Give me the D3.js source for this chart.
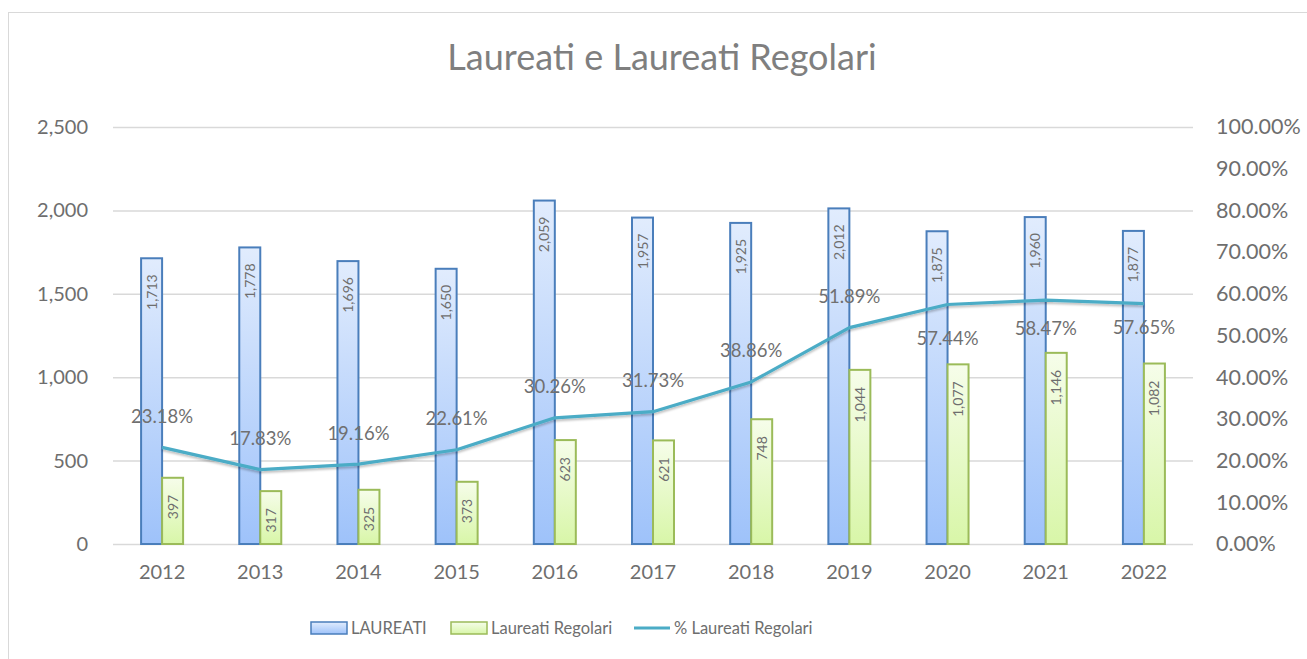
<!DOCTYPE html>
<html>
<head>
<meta charset="utf-8">
<script src="https://cdn.jsdelivr.net/npm/d3@7"></script>
<style>
  body { margin: 0; background: #fff; }
  svg { display: block; font-family: Lato, "Open Sans", sans-serif; }
</style>
</head>
<body>
<div id="chart"></div>
<script>
// Chart data
const years = ["2012", "2013", "2014", "2015", "2016", "2017", "2018", "2019", "2020", "2021", "2022"];
const laureati = [1713, 1778, 1696, 1650, 2059, 1957, 1925, 2012, 1875, 1960, 1877];
const laureatiRegolari = [397, 317, 325, 373, 623, 621, 748, 1044, 1077, 1146, 1082];
const percRegolari = [23.18, 17.83, 19.16, 22.61, 30.26, 31.73, 38.86, 51.89, 57.44, 58.47, 57.65];
const leftTicks = [0, 500, 1000, 1500, 2000, 2500];
const rightTicks = [0, 10, 20, 30, 40, 50, 60, 70, 80, 90, 100];

// label placement for the % line (above / below the point)
const pctLabelOffset = [-31, -31, -31, -31, -31, -31, -31, -31, 34, 28, 24];

const width = 1307, height = 659;
const margin = { left: 113, right: 114, top: 127, bottom: 115 };
const textGray = "#6e6e6e";

const svg = d3.select("#chart").append("svg")
    .attr("width", width)
    .attr("height", height);

// gradients
const defs = svg.append("defs");
const blueGrad = defs.append("linearGradient").attr("id", "gBlue")
    .attr("x1", 0).attr("y1", 0).attr("x2", 0).attr("y2", 1);
blueGrad.append("stop").attr("offset", "0%").attr("stop-color", "#e1ecfd");
blueGrad.append("stop").attr("offset", "100%").attr("stop-color", "#9ec2fa");
const greenGrad = defs.append("linearGradient").attr("id", "gGreen")
    .attr("x1", 0).attr("y1", 0).attr("x2", 0).attr("y2", 1);
greenGrad.append("stop").attr("offset", "0%").attr("stop-color", "#f6fdea");
greenGrad.append("stop").attr("offset", "100%").attr("stop-color", "#d8f6a8");

const shadow = defs.append("filter").attr("id", "shadow")
    .attr("x", "-20%").attr("y", "-20%").attr("width", "140%").attr("height", "160%");
shadow.append("feDropShadow").attr("dx", 0).attr("dy", 2).attr("stdDeviation", 1.2)
    .attr("flood-color", "#000").attr("flood-opacity", 0.25);

// chart frame
svg.append("rect")
    .attr("x", 8.5).attr("y", 12.5)
    .attr("width", width).attr("height", height)
    .attr("fill", "#fff")
    .attr("stroke", "#d9d9d9");

// Title
svg.append("text")
    .attr("x", 662).attr("y", 70)
    .attr("text-anchor", "middle")
    .attr("font-size", 36)
    .attr("fill", "#7f7f7f")
    .text("Laureati e Laureati Regolari");

// Scales
const x = d3.scaleBand().domain(years)
    .range([margin.left, width - margin.right]);
const yLeft = d3.scaleLinear().domain([0, 2500])
    .range([height - margin.bottom, margin.top]);
const yRight = d3.scaleLinear().domain([0, 100])
    .range([height - margin.bottom, margin.top]);

const barW = 21;

// Gridlines
svg.append("g").selectAll("line")
    .data(leftTicks)
    .join("line")
    .attr("x1", margin.left).attr("x2", width - margin.right)
    .attr("y1", d => yLeft(d) + 0.5).attr("y2", d => yLeft(d) + 0.5)
    .attr("stroke", "#d9d9d9")
    .attr("stroke-width", 1.5);

// Left axis
const axisL = svg.append("g")
    .attr("transform", `translate(${margin.left - 22},0)`)
    .call(d3.axisLeft(yLeft).tickValues(leftTicks).tickSize(0).tickFormat(d3.format(",")));
axisL.select(".domain").remove();
axisL.selectAll("text").attr("font-size", 20).attr("fill", textGray)
    .attr("font-family", "Lato, sans-serif");

// Right axis
const axisR = svg.append("g")
    .attr("transform", `translate(${width - margin.right + 23},0)`)
    .call(d3.axisRight(yRight).tickValues(rightTicks).tickSize(0).tickFormat(d => d.toFixed(2) + "%"));
axisR.select(".domain").remove();
axisR.selectAll("text").attr("font-size", 21.5).attr("fill", textGray)
    .attr("x", 0)
    .attr("font-family", "Lato, sans-serif");

// Bottom axis
const axisB = svg.append("g")
    .attr("transform", `translate(0,${height - margin.bottom + 18})`)
    .call(d3.axisBottom(x).tickSize(0));
axisB.select(".domain").remove();
axisB.selectAll("text").attr("font-size", 20).attr("fill", textGray)
    .attr("font-family", "Lato, sans-serif");

// Bars
const bars = svg.append("g");
bars.selectAll("rect.blue")
    .data(laureati)
    .join("rect")
    .attr("class", "blue")
    .attr("x", (d, i) => x(years[i]) + x.bandwidth() / 2 - barW)
    .attr("y", d => yLeft(d))
    .attr("width", barW)
    .attr("height", d => yLeft(0) - yLeft(d))
    .attr("fill", "url(#gBlue)")
    .attr("stroke", "#4a7ebb")
    .attr("stroke-width", 2);

bars.selectAll("rect.green")
    .data(laureatiRegolari)
    .join("rect")
    .attr("class", "green")
    .attr("x", (d, i) => x(years[i]) + x.bandwidth() / 2)
    .attr("y", d => yLeft(d))
    .attr("width", barW)
    .attr("height", d => yLeft(0) - yLeft(d))
    .attr("fill", "url(#gGreen)")
    .attr("stroke", "#9bbb59")
    .attr("stroke-width", 2);

// Bar labels (rotated, inside end)
const fmt = d3.format(",");
bars.selectAll("text.lblue")
    .data(laureati)
    .join("text")
    .attr("class", "lblue")
    .attr("transform", (d, i) => `translate(${x(years[i]) + x.bandwidth() / 2 - barW / 2 + 5},${yLeft(d) + 16}) rotate(-90)`)
    .attr("text-anchor", "end")
    .attr("font-size", 14)
    .attr("fill", textGray)
    .text(d => fmt(d));

bars.selectAll("text.lgreen")
    .data(laureatiRegolari)
    .join("text")
    .attr("class", "lgreen")
    .attr("transform", (d, i) => `translate(${x(years[i]) + x.bandwidth() / 2 + barW / 2 + 5},${yLeft(d) + 17}) rotate(-90)`)
    .attr("text-anchor", "end")
    .attr("font-size", 14)
    .attr("fill", textGray)
    .text(d => fmt(d));

// Line
const line = d3.line()
    .x((d, i) => x(years[i]) + x.bandwidth() / 2)
    .y(d => yRight(d));

svg.append("path")
    .datum(percRegolari)
    .attr("d", line)
    .attr("fill", "none")
    .attr("stroke", "#4bacc6")
    .attr("stroke-width", 3.2)
    .attr("stroke-linejoin", "round")
    .attr("filter", "url(#shadow)");

svg.append("g").selectAll("text")
    .data(percRegolari)
    .join("text")
    .attr("x", (d, i) => x(years[i]) + x.bandwidth() / 2)
    .attr("y", (d, i) => yRight(d) + pctLabelOffset[i])
    .attr("dy", "0.35em")
    .attr("text-anchor", "middle")
    .attr("font-size", 18.5)
    .attr("fill", "#707070")
    .text(d => d.toFixed(2) + "%");

// Legend
const legendY = 628;
const legend = svg.append("g");
const items = [
    { label: "LAUREATI", x: 311, type: "rect", fill: "url(#gBlue)", stroke: "#4a7ebb" },
    { label: "Laureati Regolari", x: 451, type: "rect", fill: "url(#gGreen)", stroke: "#9bbb59" },
    { label: "% Laureati Regolari", x: 634, type: "line", stroke: "#4bacc6" }
];
items.forEach(it => {
    if (it.type === "rect") {
        legend.append("rect")
            .attr("x", it.x).attr("y", legendY - 6)
            .attr("width", 36).attr("height", 12)
            .attr("fill", it.fill).attr("stroke", it.stroke).attr("stroke-width", 1.5);
    } else {
        legend.append("line")
            .attr("x1", it.x).attr("x2", it.x + 36)
            .attr("y1", legendY).attr("y2", legendY)
            .attr("stroke", it.stroke).attr("stroke-width", 3);
    }
    legend.append("text")
        .attr("x", it.x + 40).attr("y", legendY)
        .attr("dy", "0.35em")
        .attr("font-size", 16.5)
        .attr("fill", textGray)
        .text(it.label);
});
</script>
</body>
</html>
